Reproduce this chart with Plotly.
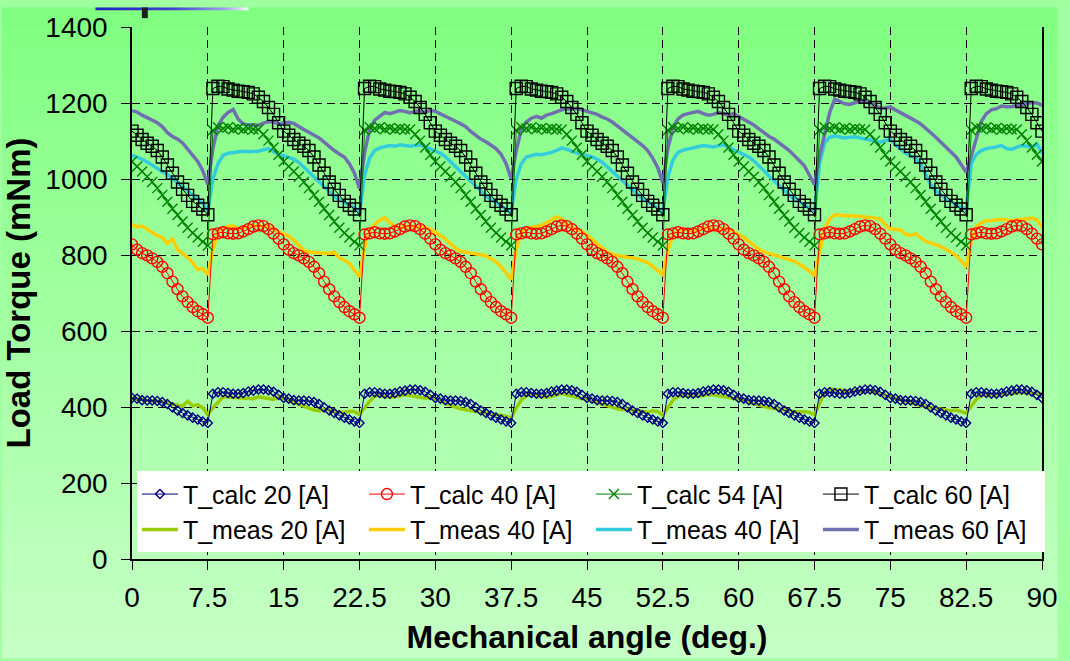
import base64
import plotly.graph_objects as go

# Rotor position grid: 0 to 90 mechanical degrees in 0.5 degree steps
ANGLE_DEG = [i * 0.5 for i in range(181)]

X_TICKS = [0, 7.5, 15, 22.5, 30, 37.5, 45, 52.5, 60, 67.5, 75, 82.5, 90]
X_TICK_TEXT = ["0", "7.5", "15", "22.5", "30", "37.5", "45", "52.5", "60", "67.5", "75", "82.5", "90"]
Y_TICKS = [0, 200, 400, 600, 800, 1000, 1200, 1400]

# Calculated load torque (mNm)
T_CALC_20 = [
    424, 422, 418, 417, 417, 416, 413, 408, 399, 391, 384, 378, 372, 367, 362, 358,
    435, 439, 439, 437, 435, 435, 437, 441, 443, 446, 446, 444, 440, 432, 424, 422, 418, 417, 417, 416, 413, 408, 399, 391, 384, 378, 372, 367, 362, 358,
    435, 439, 439, 437, 435, 435, 437, 441, 443, 446, 446, 444, 440, 432, 424, 422, 418, 417, 417, 416, 413, 408, 399, 391, 384, 378, 372, 367, 362, 358,
    435, 439, 439, 437, 435, 435, 437, 441, 443, 446, 446, 444, 440, 432, 424, 422, 418, 417, 417, 416, 413, 408, 399, 391, 384, 378, 372, 367, 362, 358,
    435, 439, 439, 437, 435, 435, 437, 441, 443, 446, 446, 444, 440, 432, 424, 422, 418, 417, 417, 416, 413, 408, 399, 391, 384, 378, 372, 367, 362, 358,
    435, 439, 439, 437, 435, 435, 437, 441, 443, 446, 446, 444, 440, 432, 424, 422, 418, 417, 417, 416, 413, 408, 399, 391, 384, 378, 372, 367, 362, 358,
    435, 439, 439, 437, 435, 435, 437, 441, 443, 446, 446, 444, 440, 432, 424,
]
T_CALC_40 = [
    828, 814, 805, 799, 791, 782, 769, 752, 730, 710, 691, 676, 663, 652, 644, 635,
    854, 857, 860, 857, 856, 857, 862, 868, 875, 878, 876, 868, 856, 843, 828, 814, 805, 799, 791, 782, 769, 752, 730, 710, 691, 676, 663, 652, 644, 635,
    854, 857, 860, 857, 856, 857, 862, 868, 875, 878, 876, 868, 856, 843, 828, 814, 805, 799, 791, 782, 769, 752, 730, 710, 691, 676, 663, 652, 644, 635,
    854, 857, 860, 857, 856, 857, 862, 868, 875, 878, 876, 868, 856, 843, 828, 814, 805, 799, 791, 782, 769, 752, 730, 710, 691, 676, 663, 652, 644, 635,
    854, 857, 860, 857, 856, 857, 862, 868, 875, 878, 876, 868, 856, 843, 828, 814, 805, 799, 791, 782, 769, 752, 730, 710, 691, 676, 663, 652, 644, 635,
    854, 857, 860, 857, 856, 857, 862, 868, 875, 878, 876, 868, 856, 843, 828, 814, 805, 799, 791, 782, 769, 752, 730, 710, 691, 676, 663, 652, 644, 635,
    854, 857, 860, 857, 856, 857, 862, 868, 875, 878, 876, 868, 856, 843, 828,
]
T_CALC_54 = [
    1046, 1033, 1020, 1006, 992, 976, 958, 940, 922, 905, 888, 872, 858, 846, 835, 825,
    1128, 1136, 1133, 1136, 1131, 1134, 1130, 1133, 1131, 1130, 1118, 1101, 1083, 1064, 1046, 1033, 1020, 1006, 992, 976, 958, 940, 922, 905, 888, 872, 858, 846, 835, 825,
    1128, 1136, 1133, 1136, 1131, 1134, 1130, 1133, 1131, 1130, 1118, 1101, 1083, 1064, 1046, 1033, 1020, 1006, 992, 976, 958, 940, 922, 905, 888, 872, 858, 846, 835, 825,
    1128, 1136, 1133, 1136, 1131, 1134, 1130, 1133, 1131, 1130, 1118, 1101, 1083, 1064, 1046, 1033, 1020, 1006, 992, 976, 958, 940, 922, 905, 888, 872, 858, 846, 835, 825,
    1128, 1136, 1133, 1136, 1131, 1134, 1130, 1133, 1131, 1130, 1118, 1101, 1083, 1064, 1046, 1033, 1020, 1006, 992, 976, 958, 940, 922, 905, 888, 872, 858, 846, 835, 825,
    1128, 1136, 1133, 1136, 1131, 1134, 1130, 1133, 1131, 1130, 1118, 1101, 1083, 1064, 1046, 1033, 1020, 1006, 992, 976, 958, 940, 922, 905, 888, 872, 858, 846, 835, 825,
    1128, 1136, 1133, 1136, 1131, 1134, 1130, 1133, 1131, 1130, 1118, 1101, 1083, 1064, 1046,
]
T_CALC_60 = [
    1126, 1115, 1104, 1094, 1086, 1075, 1058, 1037, 1015, 992, 973, 957, 941, 931, 921, 906,
    1238, 1244, 1243, 1237, 1234, 1231, 1230, 1228, 1224, 1215, 1204, 1188, 1170, 1148, 1126, 1115, 1104, 1094, 1086, 1075, 1058, 1037, 1015, 992, 973, 957, 941, 931, 921, 906,
    1238, 1244, 1243, 1237, 1234, 1231, 1230, 1228, 1224, 1215, 1204, 1188, 1170, 1148, 1126, 1115, 1104, 1094, 1086, 1075, 1058, 1037, 1015, 992, 973, 957, 941, 931, 921, 906,
    1238, 1244, 1243, 1237, 1234, 1231, 1230, 1228, 1224, 1215, 1204, 1188, 1170, 1148, 1126, 1115, 1104, 1094, 1086, 1075, 1058, 1037, 1015, 992, 973, 957, 941, 931, 921, 906,
    1238, 1244, 1243, 1237, 1234, 1231, 1230, 1228, 1224, 1215, 1204, 1188, 1170, 1148, 1126, 1115, 1104, 1094, 1086, 1075, 1058, 1037, 1015, 992, 973, 957, 941, 931, 921, 906,
    1238, 1244, 1243, 1237, 1234, 1231, 1230, 1228, 1224, 1215, 1204, 1188, 1170, 1148, 1126, 1115, 1104, 1094, 1086, 1075, 1058, 1037, 1015, 992, 973, 957, 941, 931, 921, 906,
    1238, 1244, 1243, 1237, 1234, 1231, 1230, 1228, 1224, 1215, 1204, 1188, 1170, 1148, 1126,
]

# Measured load torque (mNm)
T_MEAS_20 = [
    423, 422, 419, 417, 417, 416, 414, 411, 409, 406, 402, 415, 403, 406, 398, 380,
    398, 412, 426, 426, 425, 425, 425, 424, 422, 427, 425, 423, 420, 427, 422, 418, 414, 409, 402, 398, 392, 390, 393, 392, 389, 386, 386, 389, 388, 380,
    398, 415, 428, 430, 428, 426, 427, 430, 432, 430, 428, 425, 423, 426, 422, 416, 410, 404, 400, 395, 392, 390, 388, 386, 384, 382, 380, 378, 376, 370,
    398, 418, 430, 432, 430, 428, 426, 428, 432, 436, 432, 428, 425, 422, 420, 416, 412, 408, 402, 398, 395, 393, 395, 392, 390, 388, 386, 390, 388, 378,
    400, 418, 428, 430, 431, 429, 428, 430, 433, 432, 430, 428, 426, 424, 422, 418, 412, 408, 404, 400, 398, 396, 394, 392, 390, 388, 386, 388, 386, 380,
    410, 438, 448, 445, 446, 442, 440, 443, 441, 440, 442, 438, 436, 432, 428, 424, 420, 415, 410, 406, 402, 400, 398, 396, 394, 392, 390, 392, 388, 384,
    402, 420, 430, 432, 430, 431, 433, 432, 434, 436, 438, 436, 435, 437, 434,
]
T_MEAS_40_Y = [
    881, 874, 876, 868, 860, 851, 846, 830, 842, 815, 804, 794, 780, 762, 764, 748,
    815, 858, 870, 875, 877, 868, 872, 876, 877, 877, 876, 873, 868, 860, 856, 850, 840, 825, 812, 808, 807, 805, 804, 804, 808, 793, 786, 778, 760, 742,
    820, 865, 880, 892, 898, 885, 876, 872, 874, 876, 873, 875, 872, 868, 860, 852, 842, 830, 818, 810, 808, 805, 803, 800, 798, 790, 782, 770, 752, 735,
    815, 858, 870, 872, 874, 878, 885, 892, 900, 895, 880, 872, 868, 862, 852, 842, 830, 818, 808, 802, 798, 796, 794, 792, 790, 785, 780, 770, 760, 748,
    812, 852, 865, 868, 865, 862, 866, 870, 872, 868, 865, 870, 868, 862, 855, 846, 836, 825, 815, 808, 804, 800, 797, 794, 790, 784, 776, 768, 758, 745,
    810, 868, 895, 906, 905, 903, 904, 902, 902, 900, 899, 898, 895, 880, 868, 868, 866, 855, 851, 856, 845, 836, 832, 828, 822, 815, 807, 799, 785, 768,
    835, 875, 885, 890, 891, 893, 894, 892, 890, 892, 894, 895, 897, 892, 873,
]
T_MEAS_40_C = [
    1063, 1058, 1052, 1045, 1036, 1028, 1019, 1012, 1001, 990, 979, 968, 958, 949, 935, 916,
    1000, 1040, 1062, 1068, 1070, 1072, 1073, 1072, 1072, 1073, 1077, 1080, 1072, 1065, 1062, 1058, 1052, 1044, 1032, 1018, 1005, 993, 980, 967, 955, 945, 938, 932, 925, 910,
    1010, 1055, 1075, 1082, 1086, 1088, 1086, 1090, 1088, 1086, 1088, 1090, 1085, 1080, 1075, 1068, 1058, 1045, 1032, 1018, 1005, 993, 980, 968, 956, 946, 938, 930, 922, 912,
    1000, 1040, 1058, 1062, 1065, 1064, 1066, 1070, 1075, 1082, 1078, 1072, 1068, 1065, 1062, 1058, 1052, 1044, 1032, 1020, 1008, 995, 982, 970, 958, 948, 940, 932, 924, 912,
    1005, 1050, 1070, 1076, 1080, 1082, 1085, 1088, 1086, 1084, 1088, 1090, 1084, 1078, 1072, 1066, 1058, 1048, 1036, 1022, 1008, 995, 982, 970, 958, 948, 940, 932, 924, 912,
    1040, 1095, 1110, 1113, 1110, 1108, 1110, 1111, 1108, 1106, 1104, 1100, 1097, 1102, 1105, 1090, 1078, 1068, 1062, 1054, 1040, 1010, 985, 968, 958, 948, 940, 932, 925, 918,
    1040, 1065, 1075, 1080, 1082, 1084, 1088, 1080, 1078, 1084, 1088, 1086, 1084, 1092, 1068,
]
T_MEAS_60 = [
    1180, 1176, 1168, 1162, 1156, 1148, 1138, 1122, 1112, 1105, 1095, 1078, 1062, 1046, 1022, 985,
    1080, 1140, 1162, 1175, 1183, 1158, 1145, 1142, 1143, 1141, 1147, 1151, 1150, 1145, 1147, 1149, 1146, 1137, 1130, 1123, 1115, 1108, 1097, 1085, 1075, 1066, 1058, 1040, 1015, 975,
    1070, 1130, 1155, 1165, 1175, 1172, 1176, 1180, 1178, 1174, 1178, 1180, 1176, 1180, 1178, 1172, 1165, 1160, 1152, 1145, 1138, 1125, 1115, 1105, 1098, 1090, 1080, 1065, 1040, 1000,
    1075, 1130, 1150, 1160, 1165, 1160, 1168, 1172, 1178, 1182, 1185, 1183, 1186, 1182, 1178, 1175, 1170, 1163, 1158, 1150, 1140, 1128, 1118, 1108, 1098, 1088, 1075, 1055, 1030, 990,
    1080, 1135, 1158, 1168, 1172, 1175, 1178, 1172, 1168, 1170, 1175, 1172, 1168, 1172, 1165, 1158, 1150, 1142, 1132, 1122, 1112, 1105, 1095, 1085, 1075, 1062, 1050, 1035, 1010, 985,
    1060, 1120, 1175, 1210, 1205, 1198, 1196, 1200, 1205, 1204, 1200, 1195, 1185, 1187, 1189, 1182, 1175, 1168, 1162, 1153, 1145, 1134, 1123, 1110, 1097, 1084, 1072, 1058, 1038, 1018,
    1060, 1106, 1152, 1172, 1182, 1185, 1192, 1190, 1190, 1194, 1193, 1198, 1201, 1200, 1194,
]

for series in (T_CALC_20, T_CALC_40, T_CALC_54, T_CALC_60,
               T_MEAS_20, T_MEAS_40_Y, T_MEAS_40_C, T_MEAS_60):
    assert len(series) == len(ANGLE_DEG), len(series)

FONT = "Arial, Liberation Sans, sans-serif"

# Figure geometry (pixels)
W, H = 1070, 661
M_L, M_R, M_T, M_B = 132, 16, 20, 101
PW, PH = W - M_L - M_R, H - M_T - M_B

# Slide-style backdrop: vertical green gradient with a small header bar
backdrop_svg = f"""<svg xmlns="http://www.w3.org/2000/svg" width="{W}" height="{H}" viewBox="0 0 {W} {H}" preserveAspectRatio="none">
<defs>
<linearGradient id="g" x1="0" y1="0" x2="0" y2="1"><stop offset="0" stop-color="#80ff80"/><stop offset="1" stop-color="#c6ffc6"/></linearGradient>
<linearGradient id="b" x1="0" y1="0" x2="1" y2="0"><stop offset="0" stop-color="#2020c0"/><stop offset="0.5" stop-color="#4040d0"/><stop offset="0.85" stop-color="#a0a0f0"/><stop offset="1" stop-color="#ffffff"/></linearGradient>
</defs>
<rect width="{W}" height="{H}" fill="url(#g)"/>
<rect x="95" y="0" width="155" height="3" fill="url(#b)"/>
<rect x="142" y="0" width="6" height="11" fill="#1c1c1c"/>
</svg>"""
backdrop_src = "data:image/svg+xml;base64," + base64.b64encode(backdrop_svg.encode()).decode()

fig = go.Figure()

# Measured curves first so the calculated markers sit on top
meas_specs = [
    ("T_meas 20 [A]", T_MEAS_20, "#99cc00", 5),
    ("T_meas 40 [A]", T_MEAS_40_Y, "#ffcc00", 6),
    ("T_meas 40 [A]", T_MEAS_40_C, "#33ccdd", 7),
    ("T_meas 60 [A]", T_MEAS_60, "#7070b0", 8),
]
for name, ys, color, rank in meas_specs:
    fig.add_trace(go.Scatter(
        x=ANGLE_DEG, y=ys, name=name, mode="lines",
        line=dict(color=color, width=3.5),
        legendrank=rank,
    ))

calc_specs = [
    ("T_calc 20 [A]", T_CALC_20, "#000080", "diamond-open", 7, 1),
    ("T_calc 40 [A]", T_CALC_40, "#ff0000", "circle-open", 11, 2),
    ("T_calc 54 [A]", T_CALC_54, "#008000", "x-thin-open", 10, 3),
    ("T_calc 60 [A]", T_CALC_60, "#000000", "square-open", 12, 4),
]
for name, ys, color, symbol, size, rank in calc_specs:
    fig.add_trace(go.Scatter(
        x=ANGLE_DEG, y=ys, name=name, mode="lines+markers",
        line=dict(color=color, width=1),
        marker=dict(symbol=symbol, size=size, color=color,
                    line=dict(color=color, width=1.4)),
        legendrank=rank,
    ))

fig.update_layout(
    width=W, height=H,
    margin=dict(l=M_L, r=M_R, t=M_T, b=M_B, pad=0),
    paper_bgcolor="#a0ffa0",
    plot_bgcolor="rgba(0,0,0,0)",
    font=dict(family=FONT, color="black"),
    showlegend=True,
    legend=dict(
        orientation="h",
        x=5 / PW, y=(560 - 471) / PH,
        xanchor="left", yanchor="top",
        bgcolor="white", borderwidth=0,
        font=dict(family=FONT, size=25, color="black"),
        entrywidth=176, entrywidthmode="pixels",
        itemwidth=36,
        traceorder="normal",
    ),
    images=[dict(
        source=backdrop_src, xref="paper", yref="paper",
        x=-M_L / PW, y=1 + M_T / PH,
        sizex=W / PW, sizey=H / PH,
        xanchor="left", yanchor="top",
        sizing="stretch", layer="below",
    )],
)

fig.update_xaxes(
    range=[0, 90], tickvals=X_TICKS, ticktext=X_TICK_TEXT,
    ticks="outside", ticklen=9, tickwidth=1, tickcolor="black",
    ticklabelstandoff=4, ticklabeloverflow="allow",
    showline=True, linecolor="black", linewidth=1.5,
    showgrid=True, gridcolor="black", gridwidth=1, griddash="8px,5px",
    zeroline=False,
    tickfont=dict(family=FONT, size=28, color="black"),
    title=dict(text="Mechanical angle (deg.)", standoff=13,
               font=dict(family=FONT, size=32, color="black", weight="bold")),
)
fig.update_yaxes(
    range=[0, 1400], tickvals=Y_TICKS,
    ticks="outside", ticklen=9, tickwidth=1, tickcolor="black",
    ticklabelstandoff=8,
    showline=True, linecolor="black", linewidth=1.5, mirror=True,
    showgrid=True, gridcolor="black", gridwidth=1, griddash="8px,5px",
    zeroline=False,
    tickfont=dict(family=FONT, size=28, color="black"),
    title=dict(text="Load Torque (mNm)", standoff=10,
               font=dict(family=FONT, size=33, color="black", weight="bold")),
)

fig.write_html("out.html")
